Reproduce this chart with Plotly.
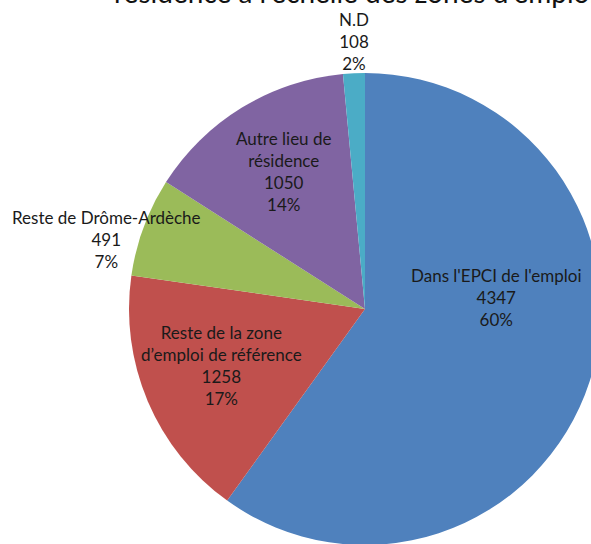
import plotly.graph_objects as go

labels = ["Dans l'EPCI de l'emploi", "Reste de la zone<br>d’emploi de référence",
          "Reste de Drôme-Ardèche", "Autre lieu de<br>résidence", "N.D"]
values = [4347, 1258, 491, 1050, 108]
percents = ["60%", "17%", "7%", "14%", "2%"]
colors = ["#4F81BD", "#C0504D", "#9BBB59", "#8064A2", "#4BACC6"]
title_text = "résidence à l'échelle des zones d'emploi"

# label anchor positions (pixels from top-left), style only
label_pos = [(497, 297), (221, 365), (106, 240), (283, 171), (354, 41)]

# figure slightly larger than the window: the reference is cropped on the right/bottom
W, H = 605, 550
CX, CY, R = 365, 309, 236

fig = go.Figure(go.Pie(
    labels=labels,
    values=values,
    textinfo="none",
    sort=False,
    direction="clockwise",
    rotation=0,
    marker=dict(colors=colors, line=dict(width=0)),
    showlegend=False,
    hoverinfo="label+value+percent",
    domain=dict(x=[(CX - R) / W, (CX + R) / W], y=[1 - (CY + R) / H, 1 - (CY - R) / H]),
))

annotations = [dict(
    text=title_text, xref="paper", yref="paper", x=112 / W, y=1,
    xanchor="left", yanchor="middle", align="left", yshift=8, showarrow=False,
    font=dict(family="Lato", size=28, color="#111111"),
)]
for lab, val, pct, (px, py) in zip(labels, values, percents, label_pos):
    annotations.append(dict(
        text=f"{lab}<br>{val}<br>{pct}", xref="paper", yref="paper",
        x=px / W, y=1 - py / H, xanchor="center", yanchor="middle",
        align="center", showarrow=False,
        font=dict(family="Lato", size=17, color="#1a1a1a"),
    ))

fig.update_layout(
    width=W, height=H,
    margin=dict(l=0, r=0, t=0, b=0),
    paper_bgcolor="white",
    plot_bgcolor="white",
    annotations=annotations,
)
fig.write_html(
    "out.html",
    config={"displayModeBar": False},
    post_script="document.body.style.margin='0';document.body.style.overflow='hidden';"
                "document.documentElement.style.overflow='hidden';",
)
